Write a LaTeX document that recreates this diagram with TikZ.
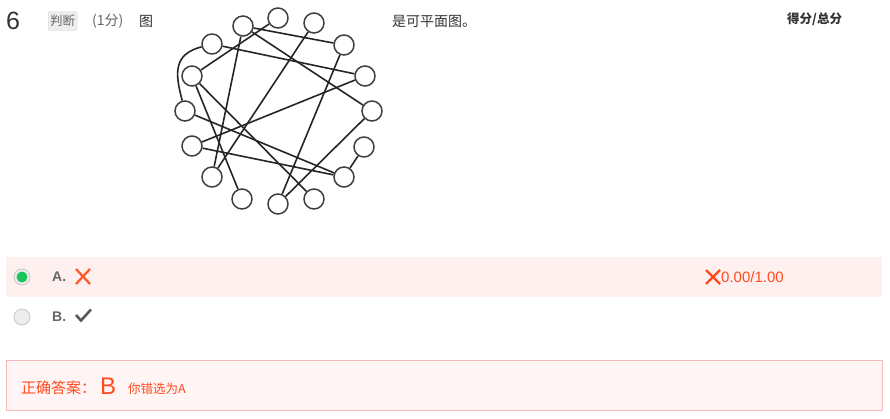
\documentclass[tikz,border=0pt]{standalone}
\usepackage{fontspec}
\setmainfont{Liberation Sans}
\newfontfamily\cjk{Noto Sans CJK SC}
\definecolor{wrong}{HTML}{FF4A1F}
\definecolor{wrongx}{HTML}{FF5A2A}
\definecolor{pinkbg}{HTML}{FFF0F0}
\definecolor{boxbg}{HTML}{FFF5F5}
\definecolor{boxline}{HTML}{F7B9B9}
\definecolor{darktxt}{HTML}{333333}
\definecolor{greytxt}{HTML}{666666}
\definecolor{radiogreen}{HTML}{1CC25C}
\tikzset{
  vtx/.style={circle,draw=black!75,fill=white,line width=1.5pt,minimum size=20pt,inner sep=0pt},
  edge/.style={draw=black!85,line width=1.6pt},
  txt/.style={anchor=west,inner sep=0pt},
  radio/.style={circle,draw=black!22,fill=black!7,line width=0.8pt,minimum size=16pt,inner sep=0pt},
}
\newcommand{\fs}[1]{\fontsize{#1}{#1}\selectfont}
\begin{document}
\begin{tikzpicture}[x=1pt,y=-1pt]
\useasboundingbox[fill=white] (0,0) rectangle (890,418);
% header
\node[txt,text=darktxt] (num) at (6,21) {\fs{25}6};
\node[anchor=west,fill=black!7,draw=black!15,rounded corners=1.5pt,inner sep=2pt,text=greytxt,minimum height=19pt] (tag) at (48,21) {\cjk\fs{12.5}判断};
\node[txt,text=greytxt] (score) at (92,21) {\cjk\fs{14}(1分)};
\node[txt,text=darktxt] (tu) at (139,21) {\cjk\fs{14}图};
\node[txt,text=darktxt] (rest) at (392,21) {\cjk\fs{14}是可平面图。};
\node[txt,text=darktxt] (head) at (787,19) {\cjk\bfseries\fs{12.5}得分/总分};
% graph
\foreach \n/\x/\y in {1/243/26, 2/278/18, 3/314/23, 4/344/45, 5/365/76, 6/372/111, 7/364/147, 8/344/177, 9/314/199, 10/278/204, 11/242/199, 12/212/177, 13/192/146, 14/185/111, 15/192/76, 16/212/44}
  \node[vtx] (n\n) at (\x,\y) {};
\foreach \a/\b in {16/5, 1/12, 1/4, 1/6, 2/15, 3/12, 4/10, 5/13, 6/10, 7/8, 8/14, 8/13, 15/11, 15/9}
  \draw[edge] (n\a) -- (n\b);
\draw[edge] (n16) to[out=195,in=105,looseness=1.3] (n14);
% option A
\fill[pinkbg] (6,257) rectangle (882,297);
\node[radio] (ra) at (22,277) {};
\fill[radiogreen] (ra.center) circle (5.5);
\node[txt,text=greytxt] (la) at (52,277) {\bfseries\fs{14}A.};
\draw[wrongx,line width=2.3pt] (76,269) -- (90,284) (90,269) -- (76,284);
\draw[wrong,line width=2.3pt] (706,270) -- (720,284) (720,270) -- (706,284);
\node[txt,text=wrong] (pts) at (721,277) {\fs{15}0.00/1.00};
% option B
\node[radio] (rb) at (22,317) {};
\node[txt,text=greytxt] (lb) at (52,317) {\bfseries\fs{14}B.};
\draw[black!65,line width=2.6pt] (76,315) -- (81,320.5) -- (91,309.5);
% answer box
\draw[boxline,fill=boxbg,line width=0.8pt] (6,360) rectangle (882,410);
\node[txt,text=wrong] (ans) at (21,388) {\cjk\fs{15}正确答案：};
\node[txt,text=wrong] (ansb) at (100,386) {\fs{24}B};
\node[txt,text=wrong] (you) at (128,389) {\cjk\fs{12.5}你错选为A};
\end{tikzpicture}
\end{document}
